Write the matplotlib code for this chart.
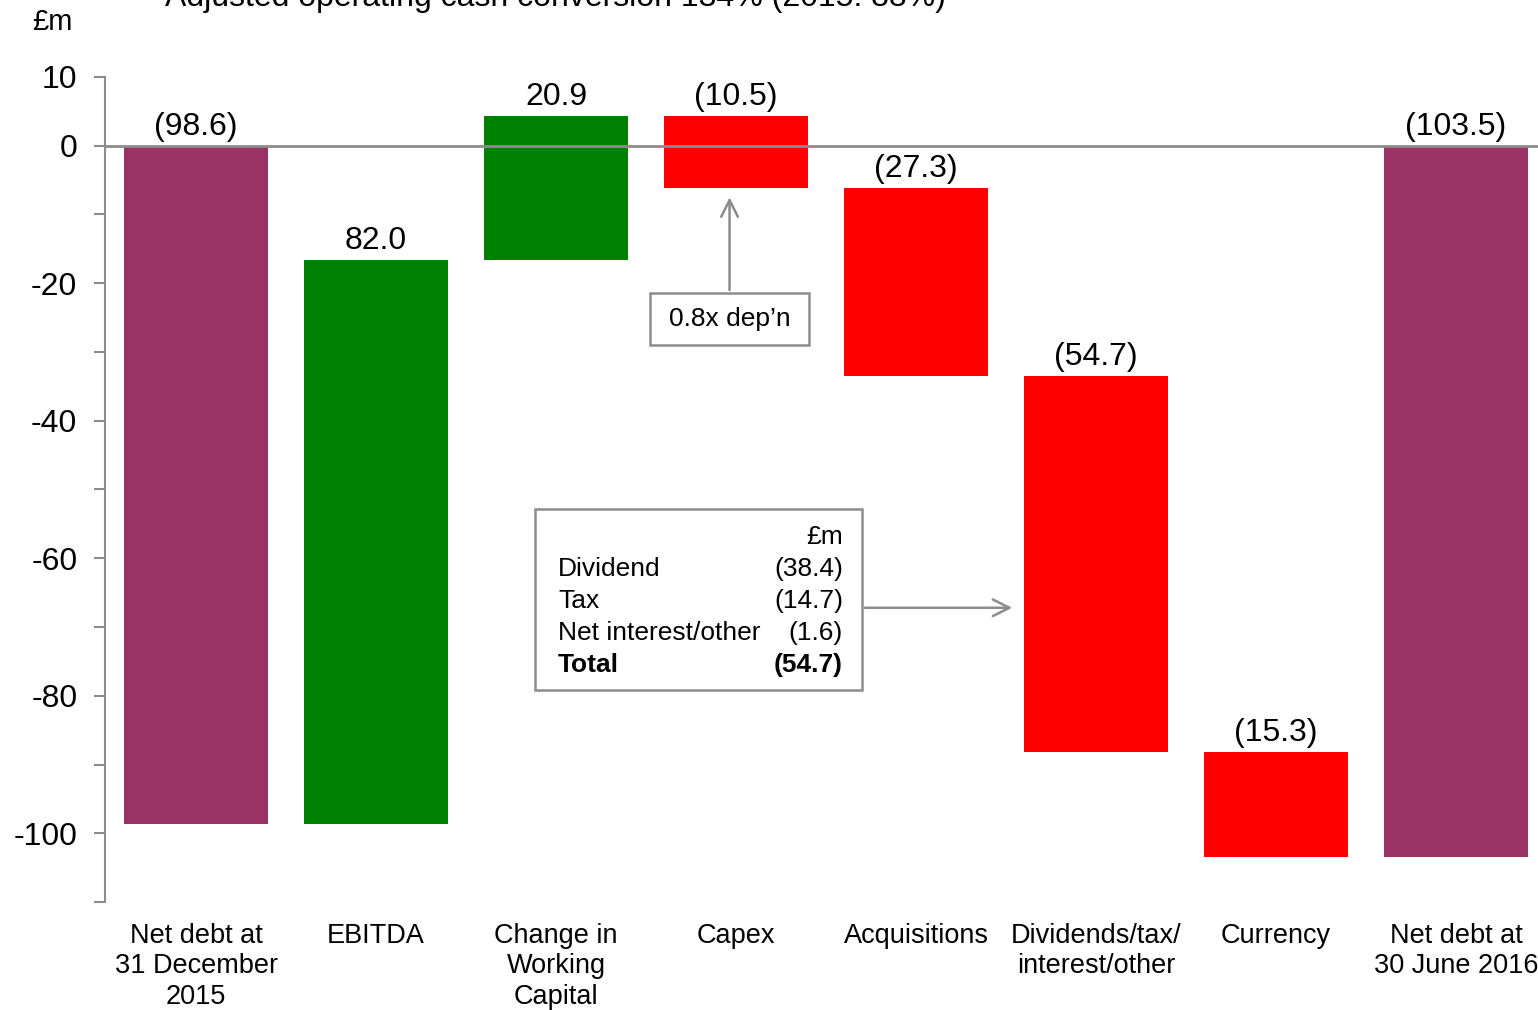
import numpy as np
import matplotlib
matplotlib.use("Agg")
from matplotlib import pyplot as plt
from matplotlib.patches import Rectangle

plt.rcParams['font.family'] = ['Liberation Sans', 'DejaVu Sans']

# categories and movements in net debt (GBP m)
categories = [
    "Net debt at\n31 December\n2015",
    "EBITDA",
    "Change in\nWorking\nCapital",
    "Capex",
    "Acquisitions",
    "Dividends/tax/\ninterest/other",
    "Currency",
    "Net debt at\n30 June 2016",
]
opening = -98.6
movements = [82.0, 20.9, -10.5, -27.3, -54.7, -15.3]
closing = -103.5

# breakdown of the dividends/tax/interest bar
split_names = ["Dividend", "Tax", "Net interest/other"]
split_values = [-38.4, -14.7, -1.6]
split_total = -54.7

purple = "#993366"
green = "#008000"
red = "#FF0000"
grey = "#8C8C8C"


def fmt(v):
    if v < 0:
        return "({:.1f})".format(-v)
    return "{:.1f}".format(v)


# build waterfall bottoms/heights
bottoms = [0]
heights = [opening]
values = [opening]
colors = [purple]
level = opening
for m in movements:
    bottoms.append(level)
    heights.append(m)
    values.append(m)
    colors.append(green if m > 0 else red)
    level += m
bottoms.append(0)
heights.append(closing)
values.append(closing)
colors.append(purple)

x = np.arange(len(categories))

fig = plt.figure(figsize=(15.38, 10.10), dpi=100)
ax = fig.add_axes([0.0683, 0.1069, 0.9317, 0.8169])

ax.bar(x, heights, bottom=bottoms, width=0.8, color=colors, zorder=2)
ax.axhline(0, color=grey, lw=2, zorder=3)

for xi, b, h, v in zip(x, bottoms, heights, values):
    top = max(b, b + h)
    ax.annotate(fmt(v), (xi, top), xytext=(0, 3), textcoords="offset points",
                ha="center", va="bottom", fontsize=23)

ax.set_xlim(-0.506, 7.456)
ax.set_ylim(-110, 10)
ticks = list(range(-110, 11, 10))
ax.set_yticks(ticks)
ax.set_yticklabels([str(t) if t % 20 == 0 or t == 10 else "" for t in ticks])
ax.set_xticks(x)
ax.set_xticklabels(categories, fontsize=19.5, linespacing=1.22)
ax.tick_params(axis="x", length=0, pad=15)
ax.tick_params(axis="y", labelsize=23, length=8, width=1.5, color=grey, pad=12)

for s in ["top", "right", "bottom"]:
    ax.spines[s].set_visible(False)
ax.spines["left"].set_color(grey)
ax.spines["left"].set_linewidth(1.5)

# capex callout
cx0, cx1, cy0, cy1 = 2.522, 3.406, -29.0, -21.4
ax.add_patch(Rectangle((cx0, cy0), cx1 - cx0, cy1 - cy0, fc="white",
                       ec=grey, lw=1.8, zorder=4))
ax.text((cx0 + cx1) / 2, (cy0 + cy1) / 2, "0.8x dep\u2019n", ha="center",
        va="center", fontsize=19, zorder=5)
ax.annotate("", xy=(2.964, -7.1), xytext=(2.964, cy1),
            arrowprops=dict(arrowstyle="->", color=grey, lw=1.8,
                            mutation_scale=30))

# dividends/tax/interest breakdown box
bx0, bx1, by0, by1 = 1.883, 3.7, -79.1, -52.9
ax.add_patch(Rectangle((bx0, by0), bx1 - bx0, by1 - by0, fc="white",
                       ec=grey, lw=1.8, zorder=4))
lx, rx = 2.011, 3.594
row_y = [-56.9, -61.6, -66.2, -70.9, -75.5]
ax.text(rx, row_y[0], "\u00a3m", ha="right", va="center", fontsize=19, zorder=5)
for name, val, ry in zip(split_names, split_values, row_y[1:]):
    ax.text(lx, ry, name, ha="left", va="center", fontsize=19, zorder=5)
    ax.text(rx, ry, fmt(val), ha="right", va="center", fontsize=19, zorder=5)
ax.text(lx, row_y[4], "Total", ha="left", va="center", fontsize=19,
        fontweight="bold", zorder=5)
ax.text(rx, row_y[4], fmt(split_total), ha="right", va="center", fontsize=19,
        fontweight="bold", zorder=5)
ax.annotate("", xy=(4.55, -67.2), xytext=(bx1, -67.2),
            arrowprops=dict(arrowstyle="->", color=grey, lw=1.8,
                            mutation_scale=30))

fig.text(0.034, 0.978, "\u00a3m", ha="center", va="center", fontsize=21)
fig.text(0.361, 1 - 6 / 1010, "Adjusted operating cash conversion 134% (2015: 88%)",
         ha="center", va="baseline", fontsize=23)

fig.savefig("out.png", dpi=100)
